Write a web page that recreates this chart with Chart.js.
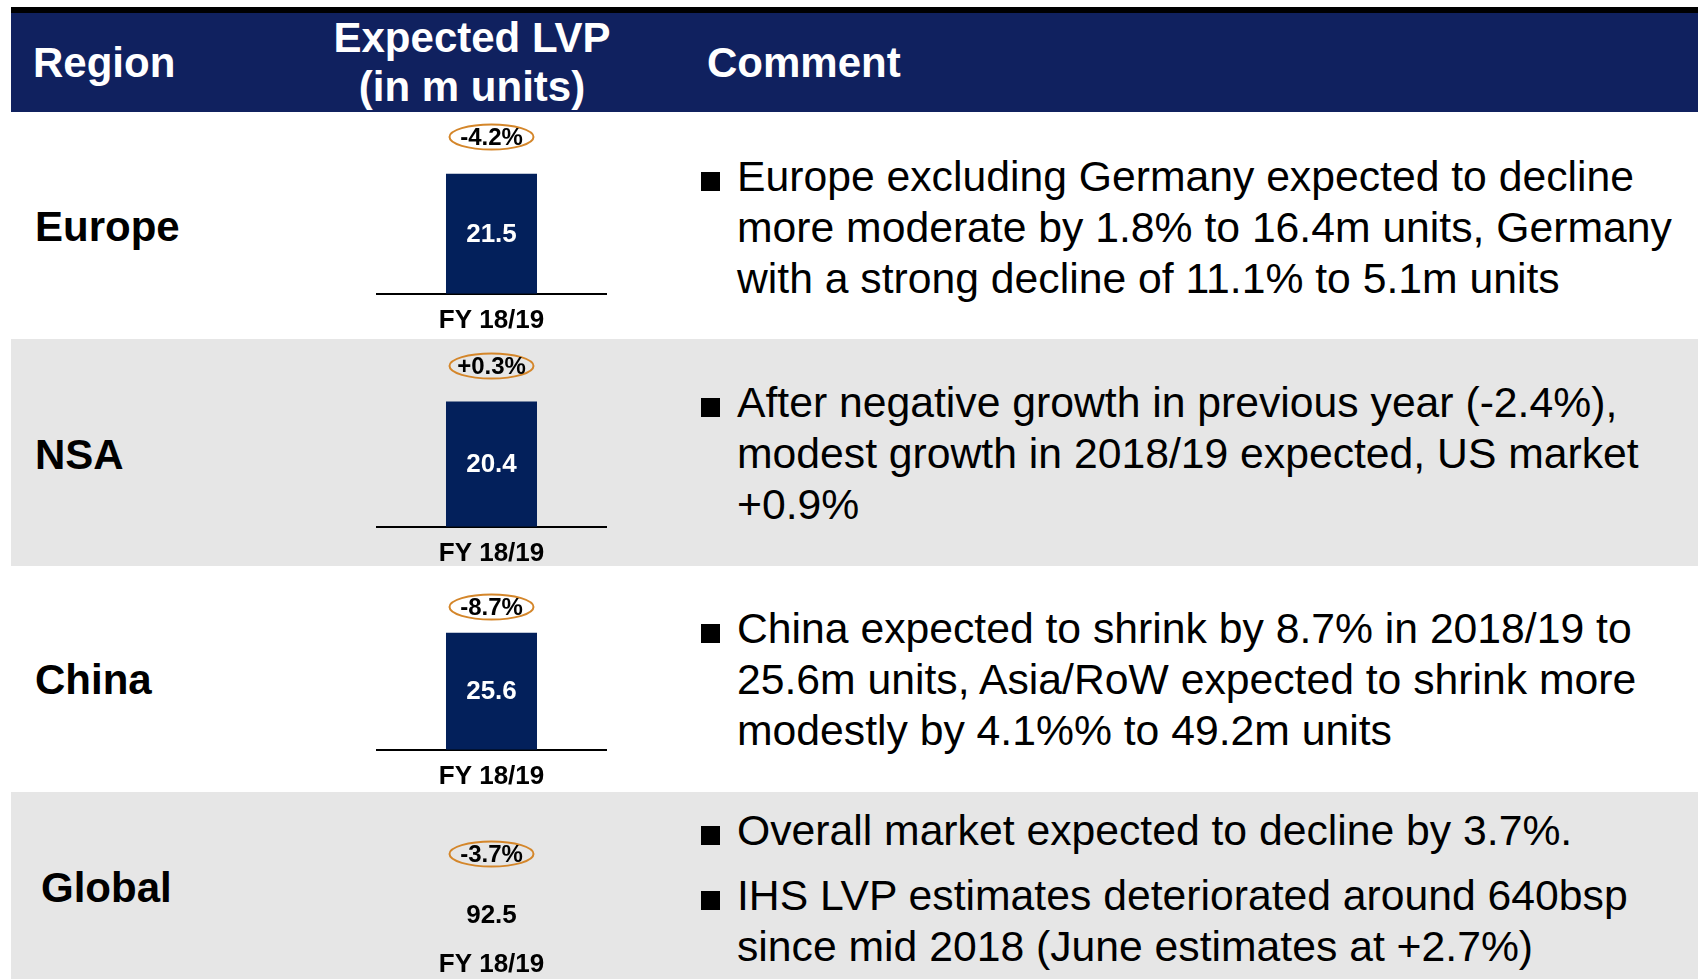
<!DOCTYPE html>
<html>
<head>
<meta charset="utf-8">
<title>Expected LVP by region</title>
<script src="https://cdn.jsdelivr.net/npm/chart.js@4.4.1/dist/chart.umd.min.js"></script>
<style>
  html, body { margin: 0; padding: 0; background: #fff; }
  body { width: 1698px; height: 979px; position: relative; overflow: hidden;
         font-family: "Liberation Sans", Arial, sans-serif; color: #000; }
  .topline { position: absolute; left: 11px; top: 7px; width: 1687px; height: 6px; background: #000; }
  .header { position: absolute; left: 11px; top: 13px; width: 1687px; height: 99px; background: #10215f; }
  .hcell { position: absolute; color: #fff; font-size: 42px; font-weight: bold; line-height: 49px; white-space: nowrap; }
  .band { position: absolute; left: 11px; width: 1687px; background: #e6e6e6; }
  .region { position: absolute; font-size: 42px; font-weight: bold; line-height: 50px; }
  .chartbox { position: absolute; left: 376px; width: 231px; }
  .bullet { position: absolute; left: 737px; font-size: 42.7px; line-height: 51px; white-space: nowrap; }
  .bullet::before { content: ''; position: absolute; left: -36px; top: 21px; width: 19px; height: 19px; background: #000; }
</style>
</head>
<body>
<div class="topline"></div>
<div class="header"></div>
<div class="hcell" style="left:33px; top:38px;">Region</div>
<div class="hcell" style="left:272px; top:13px; width:400px; text-align:center;">Expected LVP<br>(in m units)</div>
<div class="hcell" style="left:707px; top:38px;">Comment</div>

<div class="band" style="top:339px; height:227px;"></div>
<div class="band" style="top:792px; height:187px;"></div>

<div class="region" style="left:35px; top:202px;">Europe</div>
<div class="region" style="left:35px; top:430px;">NSA</div>
<div class="region" style="left:35px; top:655px;">China</div>
<div class="region" style="left:41px; top:863px;">Global</div>

<div class="bullet" style="top:151px;">Europe excluding Germany expected to decline<br>more moderate by 1.8% to 16.4m units, Germany<br>with a strong decline of 11.1% to 5.1m units</div>
<div class="bullet" style="top:377px;">After negative growth in previous year (-2.4%),<br>modest growth in 2018/19 expected, US market<br>+0.9%</div>
<div class="bullet" style="top:603px;">China expected to shrink by 8.7% in 2018/19 to<br>25.6m units, Asia/RoW expected to shrink more<br>modestly by 4.1%% to 49.2m units</div>
<div class="bullet" style="top:805px;">Overall market expected to decline by 3.7%.</div>
<div class="bullet" style="top:870px;">IHS LVP estimates deteriorated around 640bsp<br>since mid 2018 (June estimates at +2.7%)</div>

<div class="chartbox" id="box0"><canvas id="lvp0"></canvas></div>
<div class="chartbox" id="box1"><canvas id="lvp1"></canvas></div>
<div class="chartbox" id="box2"><canvas id="lvp2"></canvas></div>
<div class="chartbox" id="box3"><canvas id="lvp3"></canvas></div>

<script>
// chart data
const regions = ['Europe', 'NSA', 'China', 'Global'];
const periods = ['FY 18/19'];
const lvpValues = [21.5, 20.4, 25.6, 92.5];
const growthLabels = ['-4.2%', '+0.3%', '-8.7%', '-3.7%'];
const showBar = [true, true, true, false];

// layout of each row (px)
const rowTops = [112, 339, 566, 792];
const axisLines = [292, 525, 748, 936];
const barFill = [0.661, 0.667, 0.637, 0.31];
const badgeOffsets = [25, 27, 41, 62];

const FONT = '"Liberation Sans", Arial, sans-serif';
const navy = '#03205b';
const orange = '#d4862a';
const xScaleHeight = 55; // space kept below the axis line for the tick label

// value inside the bar + growth figure in an orange oval above it
const lvpLabels = {
  id: 'lvpLabels',
  afterDatasetsDraw(chart, args, opts) {
    const ctx = chart.ctx;
    const bar = chart.getDatasetMeta(0).data[0];
    const value = chart.data.datasets[0].data[0];
    ctx.save();
    ctx.textAlign = 'center';
    ctx.textBaseline = 'middle';
    ctx.font = 'bold 26px ' + FONT;
    ctx.fillStyle = opts.valueColor;
    ctx.fillText(value.toFixed(1), bar.x, (bar.y + bar.base) / 2 + 1);

    const by = chart.chartArea.top + opts.badgeY;
    ctx.beginPath();
    ctx.ellipse(bar.x, by, 42, 12.5, 0, 0, Math.PI * 2);
    ctx.strokeStyle = orange;
    ctx.lineWidth = 2;
    ctx.stroke();
    ctx.font = 'bold 24px ' + FONT;
    ctx.fillStyle = '#000';
    ctx.fillText(opts.growth, bar.x, by + 1);
    ctx.restore();
  }
};

regions.forEach((name, i) => {
  const box = document.getElementById('box' + i);
  box.style.top = rowTops[i] + 'px';
  box.style.height = (axisLines[i] - rowTops[i] + xScaleHeight) + 'px';

  new Chart(document.getElementById('lvp' + i), {
    type: 'bar',
    data: {
      labels: periods,
      datasets: [{
        label: name,
        data: [lvpValues[i]],
        backgroundColor: showBar[i] ? navy : 'rgba(0,0,0,0)',
        barPercentage: 0.394,
        categoryPercentage: 1
      }]
    },
    options: {
      responsive: true,
      maintainAspectRatio: false,
      animation: false,
      layout: { padding: 0 },
      plugins: {
        legend: { display: false },
        tooltip: { enabled: false },
        lvpLabels: {
          growth: growthLabels[i],
          badgeY: badgeOffsets[i],
          valueColor: showBar[i] ? '#fff' : '#000'
        }
      },
      scales: {
        x: {
          grid: { display: false, drawTicks: false },
          border: { display: showBar[i], color: '#000', width: 2 },
          ticks: { color: '#000', padding: 11, font: { family: FONT, size: 26, weight: 'bold' } }
        },
        y: {
          display: false,
          min: 0,
          max: lvpValues[i] / barFill[i]
        }
      }
    },
    plugins: [lvpLabels]
  });
});
</script>
</body>
</html>
